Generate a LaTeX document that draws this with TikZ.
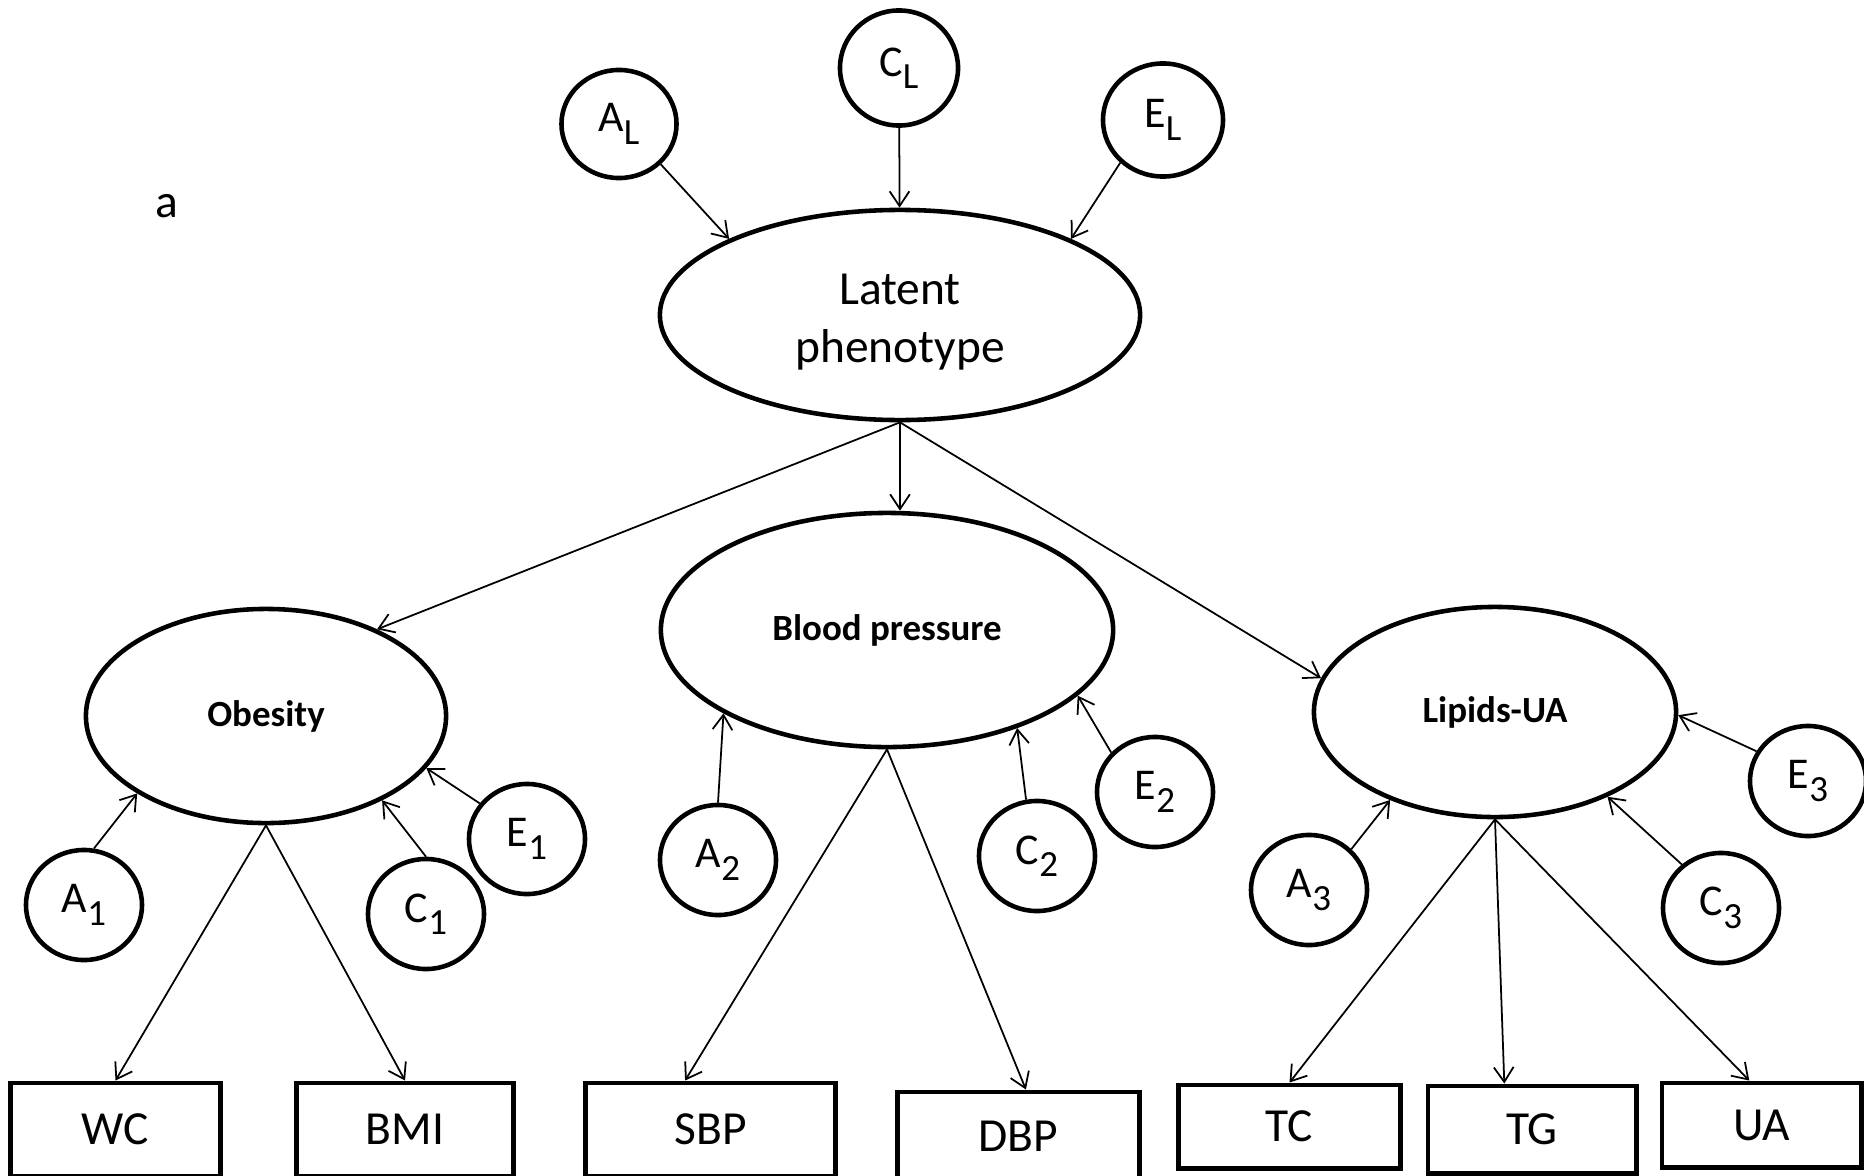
\documentclass[tikz,border=0pt]{standalone}
\usepackage{fontspec}
\setmainfont{Carlito}
\usetikzlibrary{shapes.geometric, arrows.meta, calc}
\newcommand{\lo}[1]{\raisebox{-3.5pt}{\fontsize{10.5}{10.5}\selectfont #1}}

\begin{document}
\begin{tikzpicture}[x=0.01cm, y=-0.01cm,
        latvar/.style={ellipse, draw, line width=1.3pt, inner sep=0pt, align=center, font=\fontsize{10.5}{12}\selectfont\bfseries},
        ace/.style={ellipse, draw, line width=1.3pt, minimum width=1.16cm, minimum height=1.1cm, inner sep=0pt, font=\fontsize{12.5}{15}\selectfont},
        obsbox/.style={rectangle, draw, line width=1.4pt, inner sep=0pt, font=\fontsize{13.5}{16}\selectfont},
        line/.style={draw, line width=0.5pt, -{Straight Barb[length=4.2pt, width=5.6pt]}}]

        \useasboundingbox (0,0) rectangle (1864,1176);

        \node [font=\fontsize{13.5}{16}\selectfont] (panel) at (167,206) {a};

        % top level
        \node [latvar, minimum width=4.8cm, minimum height=2.1cm, font=\fontsize{13.5}{16.5}\selectfont] (latent) at (900,315) {\rule{0pt}{12.5pt}Latent\\phenotype};
        \node [ace, minimum width=1.15cm, minimum height=1.08cm] (AL) at (619,124) {A\lo{L}};
        \node [ace, minimum width=1.18cm, minimum height=1.15cm] (CL) at (899,68) {C\lo{L}};
        \node [ace, minimum width=1.2cm, minimum height=1.13cm] (EL) at (1163,120) {E\lo{L}};

        % factors
        \node [latvar, minimum width=3.6cm, minimum height=2.14cm] (obesity) at (266,716) {Obesity};
        \node [latvar, minimum width=4.52cm, minimum height=2.34cm] (bp) at (887,630) {Blood pressure};
        \node [latvar, minimum width=3.62cm, minimum height=2.1cm] (lipids) at (1495,712) {Lipids-UA};

        \node [ace] (A1) at (84,905) {A\lo{1}};
        \node [ace] (C1) at (426,914) {C\lo{1}};
        \node [ace] (E1) at (527,839) {E\lo{1}};
        \node [ace] (A2) at (718,860) {A\lo{2}};
        \node [ace] (C2) at (1037,856) {C\lo{2}};
        \node [ace] (E2) at (1155,792) {E\lo{2}};
        \node [ace] (A3) at (1309,890) {A\lo{3}};
        \node [ace] (C3) at (1721,908) {C\lo{3}};
        \node [ace] (E3) at (1808,781) {E\lo{3}};

        % measured traits
        \node [obsbox, minimum width=2.09cm, minimum height=0.93cm] (wc) at (115.5,1129.5) {WC};
        \node [obsbox, minimum width=2.16cm, minimum height=0.93cm] (bmi) at (405,1129.5) {BMI};
        \node [obsbox, minimum width=2.49cm, minimum height=0.93cm] (sbp) at (710.5,1129.5) {SBP};
        \node [obsbox, minimum width=2.41cm, minimum height=0.88cm] (dbp) at (1018.5,1136) {DBP};
        \node [obsbox, minimum width=2.21cm, minimum height=0.83cm] (tc) at (1289.5,1126.5) {TC};
        \node [obsbox, minimum width=2.08cm, minimum height=0.87cm] (tg) at (1532,1129.5) {TG};
        \node [obsbox, minimum width=1.99cm, minimum height=0.84cm] (ua) at (1761.5,1125) {UA};

        \path [line] (AL.-44) -- (latent.156);
        \path [line] (CL) -- (latent);
        \path [line] (EL.225) -- (latent.24);

        \path [line] (latent.south) -- (obesity.38);
        \path [line] (latent.south) -- (latent.south |- bp.north);
        \path [line] (latent.south) -- (lipids.169);

        \path [line] (A1.80) -- (obesity.211);
        \path [line] (C1.north) -- (obesity.-36);
        \path [line] (E1.143) -- (obesity.-18);
        \path [line] (A2.north) -- (bp.207);
        \path [line] (C2.101) -- (bp.-37);
        \path [line] (E2.138) -- (bp.-19);
        \path [line] (A3.44) -- (lipids.220);
        \path [line] (C3.132) -- (lipids.-37);
        \path [line] (E3.150) -- (lipids.-1);

        \path [line] (obesity.south) -- (wc.north);
        \path [line] (obesity.south) -- (bmi.north);
        \path [line] (bp.south) -- ($(sbp.north west)!0.4!(sbp.north east)$);
        \path [line] (bp.south) -- ($(dbp.north west)!0.53!(dbp.north east)$);
        \path [line] (lipids.south) -- (tc.north);
        \path [line] (lipids.south) -- ($(tg.north west)!0.37!(tg.north east)$);
        \path [line] (lipids.south) -- ($(ua.north west)!0.44!(ua.north east)$);
    \end{tikzpicture}
\end{document}
